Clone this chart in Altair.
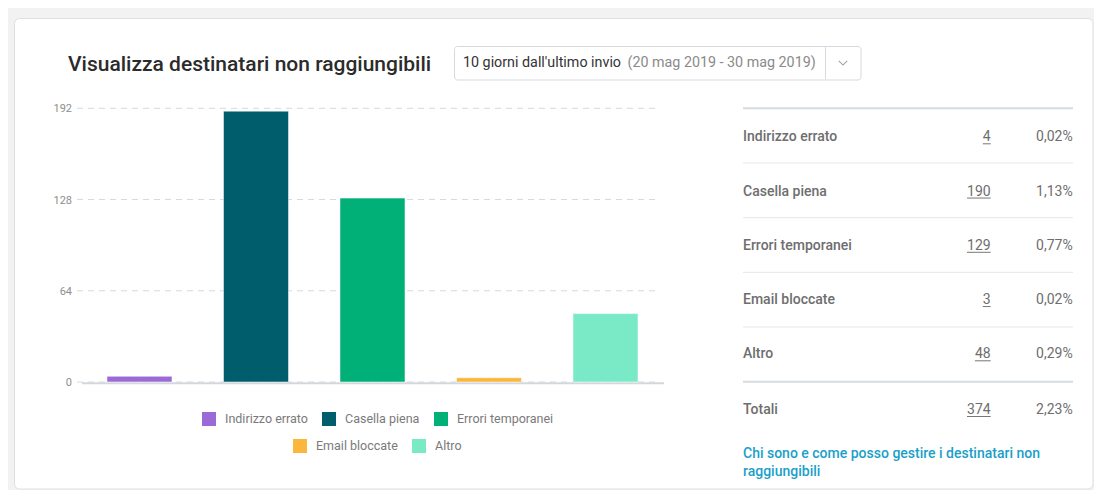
import altair as alt
import pandas as pd

# ---------------- data ----------------
categories = ["Indirizzo errato", "Casella piena", "Errori temporanei", "Email bloccate", "Altro"]
counts = [4, 190, 129, 3, 48]
percents = ["0,02%", "1,13%", "0,77%", "0,02%", "0,29%"]
colors = ["#9c6ad6", "#005e6c", "#00b077", "#fbb63c", "#7aeac6"]
y_ticks = [0, 64, 128, 192]
total_label = "Totali"
total_count = 374
total_percent = "2,23%"
title_text = "Visualizza destinatari non raggiungibili"
period_main = "10 giorni dall'ultimo invio"
period_dates = "(20 mag 2019 - 30 mag 2019)"
link_lines = ["Chi sono e come posso gestire i destinatari non", "raggiungibili"]

W, H = 1086, 482
FONT = "Roboto"
TXT = "#6e6e6e"
TFS = 14  # table font size

bars_df = pd.DataFrame({"categoria": categories, "valore": counts})
ticks_df = pd.DataFrame({"valore": y_ticks})
table_df = pd.DataFrame({
    "etichetta": categories,
    "n": [str(c) for c in counts],
    "cifre": [len(str(c)) for c in counts],
    "pct": percents,
    "riga": list(range(len(categories))),
})
total_df = pd.DataFrame({"etichetta": [total_label], "n": [str(total_count)],
                         "cifre": [len(str(total_count))], "pct": [total_percent]})
thin_df = pd.DataFrame({"linea": [1, 2, 3, 4]})
thick_df = pd.DataFrame({"linea": [0, 5]})
one = pd.DataFrame({"k": [0]})

# ---------------- scales ----------------
xscale = alt.Scale(domain=categories, range=[73.25, 655.75], paddingInner=0.442, paddingOuter=0.221)
yscale = alt.Scale(domain=[0, 192], range=[374, 100.3])
rowscale = alt.Scale(domain=[0, 4], range=[129.3, 346.3])
linescale = alt.Scale(domain=[0, 5], range=[100.3, 373.7])
NUM_X = 982.7
PCT_X = 1064.7
LAB_X = 735
underscale = alt.Scale(domain=[0, 3], range=[NUM_X, NUM_X - 3 * 7.9])

# ---------------- card & header ----------------
card = alt.Chart(one).mark_rect(fill="white", stroke="#dcdfe3", strokeWidth=1, cornerRadius=5).encode(
    x=alt.value(6.5), x2=alt.value(1085), y=alt.value(10.5), y2=alt.value(481))

title = alt.Chart(pd.DataFrame({"t": [title_text]})).mark_text(
    align="left", baseline="middle", font=FONT, fontSize=21, fontWeight=500, color="#2b2b2b"
).encode(x=alt.value(60), y=alt.value(57), text="t:N")

dd_box = alt.Chart(one).mark_rect(fill="white", stroke="#d5dae0", strokeWidth=1, cornerRadius=3).encode(
    x=alt.value(446.5), x2=alt.value(853), y=alt.value(38.5), y2=alt.value(72))
dd_div = alt.Chart(one).mark_rule(color="#d5dae0", strokeWidth=1).encode(
    x=alt.value(817.5), y=alt.value(39), y2=alt.value(71.5))
dd_main = alt.Chart(pd.DataFrame({"t": [period_main]})).mark_text(
    align="left", baseline="middle", font=FONT, fontSize=14.3, color="#333333"
).encode(x=alt.value(455), y=alt.value(55), text="t:N")
dd_dates = alt.Chart(pd.DataFrame({"t": [period_dates]})).mark_text(
    align="left", baseline="middle", font=FONT, fontSize=14.3, color="#8a8a8a"
).encode(x=alt.value(619.5), y=alt.value(55), text="t:N")
chevron = alt.Chart(one).mark_point(
    shape="M-1,-0.5L0,0.5L1,-0.5", filled=False, size=70, strokeWidth=1.1, color="#9aa0a6", opacity=1
).encode(x=alt.value(835), y=alt.value(55))

# ---------------- bar chart ----------------
grid = alt.Chart(ticks_df).mark_rule(strokeDash=[6, 5], color="#d8d8d8", strokeWidth=1).encode(
    y=alt.Y("valore:Q", scale=yscale, axis=None), x=alt.value(69), x2=alt.value(652))
ylabels = alt.Chart(ticks_df).mark_text(
    align="right", baseline="middle", font=FONT, fontSize=11, color="#8e8e8e", dy=1
).encode(y=alt.Y("valore:Q", scale=yscale, axis=None), x=alt.value(64), text="valore:Q")
baseline = alt.Chart(one).mark_rule(color="#d3d8dd", strokeWidth=2).encode(
    y=alt.value(375.3), x=alt.value(74), x2=alt.value(656))


def bar_layer(cats, cols, lx, ly):
    return alt.Chart(bars_df).transform_filter(
        alt.FieldOneOfPredicate(field="categoria", oneOf=cats)
    ).mark_bar(stroke="white", strokeWidth=1, strokeOpacity=0.5).encode(
        x=alt.X("categoria:N", scale=xscale, axis=None),
        y=alt.Y("valore:Q", scale=yscale, axis=None),
        color=alt.Color(
            "categoria:N",
            scale=alt.Scale(domain=cats, range=cols),
            legend=alt.Legend(
                orient="none", legendX=lx, legendY=ly, direction="horizontal", title=None,
                symbolType="square", symbolSize=196, symbolStrokeWidth=0,
                labelFont=FONT, labelFontSize=12.5, labelColor="#7a7a7a",
                labelOffset=9, columnPadding=14, padding=0,
            ),
        ),
    )


bars1 = bar_layer(categories[:3], colors[:3], 194, 404)
bars2 = bar_layer(categories[3:], colors[3:], 285, 431)

# ---------------- table ----------------
lines_thin = alt.Chart(thin_df).mark_rule(color="#e4e7ea", strokeWidth=1).encode(
    y=alt.Y("linea:Q", scale=linescale, axis=None), x=alt.value(LAB_X), x2=alt.value(1065))
lines_thick = alt.Chart(thick_df).mark_rule(color="#d6dbe0", strokeWidth=2).encode(
    y=alt.Y("linea:Q", scale=linescale, axis=None), x=alt.value(LAB_X), x2=alt.value(1065))

ry = alt.Y("riga:Q", scale=rowscale, axis=None)
t_lab = alt.Chart(table_df).mark_text(
    align="left", baseline="middle", font=FONT, fontSize=TFS, fontWeight=500, color=TXT
).encode(x=alt.value(LAB_X), y=ry, text="etichetta:N")
t_num = alt.Chart(table_df).mark_text(
    align="right", baseline="middle", font=FONT, fontSize=TFS, color=TXT
).encode(x=alt.value(NUM_X), y=ry, text="n:N")
t_und = alt.Chart(table_df).mark_rule(color="#777777", strokeWidth=1, yOffset=6.5).encode(
    y=ry, x=alt.X("cifre:Q", scale=underscale, axis=None), x2=alt.value(NUM_X))
t_pct = alt.Chart(table_df).mark_text(
    align="right", baseline="middle", font=FONT, fontSize=TFS, color=TXT
).encode(x=alt.value(PCT_X), y=ry, text="pct:N")

TY = 402
tot_lab = alt.Chart(total_df).mark_text(
    align="left", baseline="middle", font=FONT, fontSize=TFS, fontWeight=500, color=TXT
).encode(x=alt.value(LAB_X), y=alt.value(TY), text="etichetta:N")
tot_num = alt.Chart(total_df).mark_text(
    align="right", baseline="middle", font=FONT, fontSize=TFS, color=TXT
).encode(x=alt.value(NUM_X), y=alt.value(TY), text="n:N")
tot_und = alt.Chart(total_df).mark_rule(color="#777777", strokeWidth=1).encode(
    y=alt.value(TY + 6.5), x=alt.X("cifre:Q", scale=underscale, axis=None), x2=alt.value(NUM_X))
tot_pct = alt.Chart(total_df).mark_text(
    align="right", baseline="middle", font=FONT, fontSize=TFS, color=TXT
).encode(x=alt.value(PCT_X), y=alt.value(TY), text="pct:N")

link = alt.Chart(one).mark_text(
    align="left", baseline="middle", font=FONT, fontSize=TFS, fontWeight=500, color="#1a9fc9",
    text=link_lines, lineHeight=17.7,
).encode(x=alt.value(LAB_X), y=alt.value(445.85))

chart = alt.layer(
    card, title, dd_box, dd_div, dd_main, dd_dates, chevron,
    grid, baseline, ylabels, bars1, bars2,
    lines_thin, lines_thick, t_lab, t_num, t_und, t_pct,
    tot_lab, tot_num, tot_und, tot_pct, link,
).resolve_scale(
    x="independent", y="independent", color="independent"
).properties(
    width=W, height=H, autosize=alt.AutoSizeParams(type="none"), padding=0, background="#f2f2f2"
).configure_view(strokeWidth=0)

chart.save("out.html", embed_options={"renderer": "svg", "actions": False})
